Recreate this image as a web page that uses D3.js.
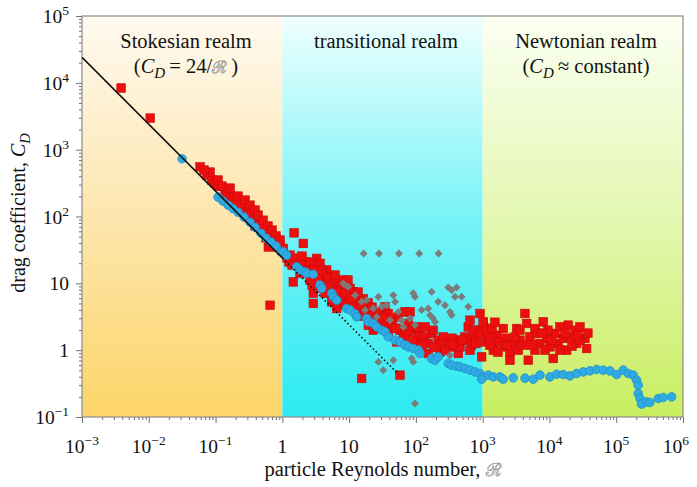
<!DOCTYPE html>
<html><head><meta charset="utf-8">
<script src="https://cdn.jsdelivr.net/npm/d3@7"></script>
<style>
html,body{margin:0;padding:0;background:#fff;}
svg{display:block;font-family:"Liberation Serif","Times New Roman",serif;}
</style></head><body>
<svg id="chart" width="697" height="487"></svg>
<script>
// ---- data: particle Reynolds number vs drag coefficient ----
const xTicks = [1e-3, 1e-2, 1e-1, 1, 10, 1e2, 1e3, 1e4, 1e5, 1e6];
const yTicks = [1e-1, 1, 10, 1e2, 1e3, 1e4, 1e5];
const realmBounds = [1e-3, 1, 1e3, 1e6];
const realmNames = ["Stokesian realm", "transitional realm", "Newtonian realm"];

// Stokes law C_D = 24/Re: solid in its own realm, dotted beyond
const stokesSolid = [[1e-3, 24000], [1, 24]];
const stokesDotted = [[1, 24], [55, 0.436]];

// measured drag coefficients [Re, C_D]
const redSquares = [
  [0.00385, 8360], [0.0105, 2970], [0.0586, 555], [0.0738, 417], [0.0877, 351], [0.0984, 313],
  [0.109, 285], [0.139, 248], [0.147, 222], [0.165, 202], [0.185, 187], [0.207, 157], [0.225, 129],
  [0.247, 140], [0.261, 117], [0.310, 117], [0.348, 105], [0.368, 88], [0.390, 72], [0.437, 83],
  [0.464, 74], [0.492, 66], [0.551, 56], [0.570, 48], [0.655, 50], [0.733, 44], [0.617, 35],
  [0.824, 35], [0.863, 40], [0.98, 31], [0.655, 4.7],
  [0.0827, 462], [0.109, 351], [0.125, 285], [0.165, 266], [0.217, 202], [0.277, 176], [0.328, 148],
  [0.390, 125], [0.433, 105], [0.514, 88], [0.611, 72], [0.701, 62.5], [0.805, 51], [0.924, 44.4],
  [0.0673, 495],
  [1.50, 57], [2.06, 39.5], [0.924, 37.3], [1.035, 33.3], [1.30, 26.4], [1.74, 19.9], [1.46, 10.5],
  [2.91, 5.0], [2.91, 7.1], [3.27, 23.6], [2.32, 15.8], [3.67, 19.9], [4.62, 15.8], [5.18, 11.2],
  [4.11, 12.5], [6.15, 10.0], [7.31, 8.9], [8.19, 11.2], [10.3, 8.4], [11.6, 7.5], [9.2, 6.3],
  [13.0, 5.6], [16.3, 5.9], [14.6, 4.45], [10.9, 4.45], [18.3, 4.45], [21.8, 3.54], [19.4, 2.37],
  [25.9, 2.81], [29.0, 2.51], [34.5, 2.23], [36.5, 3.54], [23.0, 1.99], [15.4, 0.377], [4.36, 7.1],
  [5.80, 7.9], [5.49, 5.3], [8.19, 4.7], [6.52, 4.2], [2.60, 11.2], [1.84, 14.1], [34.5, 4.45],
  [38.6, 3.54], [43.4, 2.98], [34.5, 2.51], [54.5, 3.15], [68.7, 3.74], [81.6, 3.74], [76.9, 2.51],
  [86.5, 1.99], [103, 2.23], [115, 1.99], [109, 1.58], [137, 1.58], [172, 1.78], [153, 1.26],
  [182, 1.99], [216, 1.41], [257, 1.58], [289, 1.26], [324, 1.12], [408, 1.41], [432, 0.893],
  [457, 1.12], [543, 1.58], [608, 2.23], [608, 1.41], [684, 1.19], [767, 1.58], [859, 1.99],
  [912, 3.54], [1021, 2.51], [966, 0.794], [1081, 1.33], [1213, 1.58], [1365, 1.19], [57.8, 1.99],
  [64.8, 1.58], [51.6, 1.33], [38.6, 1.88], [153, 0.893], [230, 0.944], [97, 1.33], [137, 2.23],
  [57.8, 0.423], [1.26, 20.8], [1.60, 23.8], [2.19, 20.8], [2.69, 16.9], [3.42, 12.8], [4.83, 9.4],
  [7.31, 6.4], [13.1, 3.97], [16.7, 3.23], [26.2, 2.13], [45.4, 2.13], [68.7, 1.99], [230, 1.19],
  [347, 1.51], [490, 1.41],
  [1.18, 23.8], [1.40, 18.7], [1.97, 25.5], [2.60, 20.8], [3.09, 15.8], [3.93, 15.8], [2.79, 9.4],
  [3.42, 8.5], [4.83, 12.0], [6.15, 13.3], [6.82, 7.4], [8.69, 7.1], [9.6, 11.2], [11.0, 6.0],
  [13.6, 7.4], [15.6, 4.9], [19.2, 5.1], [22.0, 4.4], [27.1, 3.7], [32.1, 3.0], [43.9, 2.6],
  [50.4, 2.13], [76.2, 1.68], [90.5, 1.41], [123, 1.19], [187, 1.11], [273, 1.0], [359, 1.23],
  [646, 1.0], [794, 1.26],
  [646, 2.81], [1021, 2.65], [723, 1.99], [912, 1.78], [1148, 1.99], [1286, 1.50], [1622, 1.67],
  [1816, 1.33], [2032, 1.12], [1442, 1.0], [2564, 0.944], [2564, 0.708], [2871, 1.19], [3228, 2.11],
  [3614, 1.41], [4296, 3.54], [4560, 2.51], [5105, 1.58], [4819, 0.708], [6067, 1.0], [6430, 1.78],
  [7211, 1.26], [8074, 2.65], [9080, 1.50], [10170, 1.12], [11400, 0.75], [12080, 1.78], [13550, 1.26],
  [14360, 2.23], [16100, 1.50], [18080, 1.0], [19110, 2.37], [21490, 1.58], [24100, 1.99], [25540, 1.26],
  [28640, 2.23], [33980, 1.50], [36060, 1.06], [2032, 2.11], [6067, 2.11], [8570, 1.0], [3412, 1.0],
  [1286, 1.19], [1380, 2.13], [2233, 1.51], [4010, 1.19], [9490, 1.99], [14360, 1.0], [21730, 1.15],
  [28640, 1.41], [1694, 0.933], [3048, 1.57],
  [1528, 2.62], [2312, 1.19], [3614, 1.99], [5470, 1.19], [7727, 1.80], [10890, 1.41], [17060, 1.80],
  [26730, 1.67], [37670, 1.80]
];

const blueCircles = [
  [0.0315, 731], [0.109, 195], [0.129, 170], [0.154, 148], [0.183, 131], [0.217, 116], [0.267, 98],
  [0.328, 82], [0.390, 69], [0.480, 56], [0.570, 47.5], [0.678, 41.4], [0.805, 36], [0.957, 30],
  [1.035, 29.6], [1.16, 26.4], [1.64, 17.7], [1.84, 15.8], [2.19, 14.9], [2.32, 14.1], [2.91, 13.7],
  [3.67, 9.4], [3.89, 8.4], [5.49, 7.1], [5.80, 6.3], [6.52, 5.6], [9.2, 4.2], [10.3, 4.0],
  [12.2, 3.5], [13.0, 3.15], [18.3, 2.98], [19.4, 2.65], [23.0, 2.51], [25.9, 2.23], [30.8, 1.99],
  [34.5, 1.88], [38.6, 1.58], [48.7, 1.41], [57.8, 1.33], [68.7, 1.19], [76.9, 1.12], [91.4, 1.06],
  [109, 1.0], [115, 0.893], [172, 0.75], [193, 0.708], [216, 0.794], [305, 0.632], [343, 0.596],
  [408, 0.575], [457, 0.562], [543, 0.532], [646, 0.502], [767, 0.473], [912, 0.448], [1021, 0.398],
  [1213, 0.423], [1442, 0.398], [966, 0.368], [1816, 0.398], [2032, 0.368], [2871, 0.385],
  [4296, 0.381], [5715, 0.368], [7211, 0.423], [10170, 0.398], [12820, 0.437], [16100, 0.433],
  [20280, 0.412], [25540, 0.448], [32080, 0.473], [40370, 0.490], [50900, 0.514], [63900, 0.502],
  [80500, 0.490], [101400, 0.433], [127400, 0.502], [151400, 0.448], [179600, 0.423], [201900, 0.356],
  [213300, 0.299], [213300, 0.225], [226500, 0.189], [239900, 0.156], [285100, 0.168], [319300, 0.165],
  [425500, 0.189], [505800, 0.196], [675000, 0.2]
];

const greyDiamonds = [
  [16.5, 27.9], [28.0, 27.9], [55.8, 27.9], [112, 27.9], [218, 27.9],
  [8.2, 9.95], [9.7, 8.9], [12.3, 6.65], [15.4, 5.3], [18.3, 5.6], [23.0, 4.2], [27.4, 6.3],
  [30.8, 4.45], [36.5, 4.7], [25.9, 3.15], [17.3, 4.0], [27.4, 0.668], [32.5, 0.502], [45.9, 6.65],
  [48.7, 5.3], [91.4, 7.1], [97, 6.3], [172, 7.5], [305, 8.7], [343, 7.9], [408, 8.7], [485, 6.3],
  [385, 6.3], [216, 5.3], [273, 4.7], [324, 3.74], [343, 3.34], [608, 4.45], [122, 4.0], [153, 4.2],
  [163, 3.34], [182, 2.98], [193, 2.65], [54.5, 3.74], [61.3, 2.81], [64.8, 2.23], [81.6, 2.98],
  [97, 2.37], [45.9, 0.708], [86.5, 0.75], [91.4, 0.668], [172, 0.794], [324, 0.841], [40.9, 2.81],
  [97, 0.159]
];

// ---- layout ----
const plot = { left: 82, top: 16, right: 683, bottom: 417 };
const svg = d3.select("#chart");
const x = d3.scaleLog().domain([1e-3, 1e6]).range([plot.left, plot.right]);
const y = d3.scaleLog().domain([1e-1, 1e5]).range([plot.bottom, plot.top]);

// realm backgrounds: vertical gradients
const realmFills = [
  ["#fffaf0", "#fde6ae", "#fcd568"],
  ["#effffe", "#78f3f7", "#2cebf1"],
  ["#fbfff2", "#e4f7b2", "#c8ee5f"]
];
const defs = svg.append("defs");
realmFills.forEach((c, i) => {
  const g = defs.append("linearGradient").attr("id", "realm" + i)
    .attr("x1", 0).attr("y1", 0).attr("x2", 0).attr("y2", 1);
  g.append("stop").attr("offset", "0%").attr("stop-color", c[0]);
  g.append("stop").attr("offset", "50%").attr("stop-color", c[1]);
  g.append("stop").attr("offset", "100%").attr("stop-color", c[2]);
});
svg.append("g").selectAll("rect").data(realmNames).join("rect")
  .attr("x", (d, i) => x(realmBounds[i]))
  .attr("y", plot.top)
  .attr("width", (d, i) => x(realmBounds[i + 1]) - x(realmBounds[i]))
  .attr("height", plot.bottom - plot.top)
  .attr("fill", (d, i) => `url(#realm${i})`);

// ---- axes ----
const minorOf = (lo, hi) => {
  const out = [];
  for (let e = Math.log10(lo); e < Math.log10(hi); e++)
    for (let m = 2; m <= 9; m++) out.push(m * Math.pow(10, e));
  return out;
};
const tickColor = "#6f6f6f";
function styleAxis(g) {
  g.select(".domain").remove();
  g.selectAll("line").attr("stroke", tickColor);
  g.selectAll("text").remove();
}
svg.append("g").attr("transform", `translate(${plot.left},0)`)
  .call(d3.axisLeft(y).tickValues(yTicks).tickSize(6)).call(styleAxis);
svg.append("g").attr("transform", `translate(${plot.left},0)`)
  .call(d3.axisLeft(y).tickValues(minorOf(1e-1, 1e5)).tickSize(3)).call(styleAxis);
svg.append("g").attr("transform", `translate(0,${plot.bottom})`)
  .call(d3.axisBottom(x).tickValues(xTicks).tickSize(6)).call(styleAxis);
svg.append("g").attr("transform", `translate(0,${plot.bottom})`)
  .call(d3.axisBottom(x).tickValues(minorOf(1e-3, 1e6)).tickSize(3)).call(styleAxis);

// frame
svg.append("rect")
  .attr("x", plot.left).attr("y", plot.top)
  .attr("width", plot.right - plot.left).attr("height", plot.bottom - plot.top)
  .attr("fill", "none").attr("stroke", "#8a8a8a").attr("stroke-width", 1.2);

// power-of-ten labels
function powerLabel(sel, v) {
  const e = Math.round(Math.log10(v));
  if (e === 0) { sel.text("1"); return; }
  if (e === 1) { sel.text("10"); return; }
  sel.append("tspan").text("10");
  sel.append("tspan").attr("dy", -8).attr("font-size", 13.5)
    .text(e < 0 ? "\u2212" + (-e) : String(e));
}
const labelSize = 19.5;
const titleSize = 20.5;
svg.append("g").selectAll("text").data(yTicks).join("text")
  .attr("x", 69)
  .attr("y", d => y(d) + 7)
  .attr("text-anchor", "end")
  .attr("font-size", labelSize)
  .attr("fill", "#111")
  .each(function (d) { powerLabel(d3.select(this), d); });
svg.append("g").selectAll("text").data(xTicks).join("text")
  .attr("x", (d, i) => i === xTicks.length - 1 ? x(d) + 6 : x(d))
  .attr("y", 453)
  .attr("text-anchor", (d, i) => i === xTicks.length - 1 ? "end" : "middle")
  .attr("font-size", labelSize)
  .attr("fill", "#111")
  .each(function (d) { powerLabel(d3.select(this), d); });

// axis titles
const xt = svg.append("text").attr("x", 383).attr("y", 476)
  .attr("text-anchor", "middle").attr("font-size", titleSize).attr("fill", "#111");
xt.append("tspan").text("particle Reynolds number, ");
xt.append("tspan").attr("font-family", "DejaVu Serif").attr("font-size", 18)
  .attr("fill", "#c8c8c8").attr("stroke", "#8d8d8d").attr("stroke-width", 0.5).text("\u211B");

const yt = svg.append("text").attr("transform", "translate(25,213) rotate(-90)")
  .attr("text-anchor", "middle").attr("font-size", 20).attr("fill", "#111");
yt.append("tspan").text("drag coefficient, ");
yt.append("tspan").attr("font-style", "italic").text("C");
yt.append("tspan").attr("font-style", "italic").attr("font-size", 14.5).attr("dy", 5).text("D");

// realm captions
const captionX = [186, 386, 586];
svg.append("g").selectAll("text").data(realmNames).join("text")
  .attr("x", (d, i) => captionX[i]).attr("y", 48)
  .attr("text-anchor", "middle").attr("font-size", titleSize).attr("fill", "#111")
  .text(d => d);

const s1 = svg.append("text").attr("x", captionX[0]).attr("y", 73)
  .attr("text-anchor", "middle").attr("font-size", titleSize).attr("fill", "#111");
s1.append("tspan").text("(");
s1.append("tspan").attr("font-style", "italic").text("C");
s1.append("tspan").attr("font-style", "italic").attr("font-size", 15).attr("dy", 5).text("D");
s1.append("tspan").attr("dy", -5).text("\u2009= 24/");
s1.append("tspan").attr("font-family", "DejaVu Serif").attr("font-size", 17)
  .attr("fill", "#c8c8c8").attr("stroke", "#8d8d8d").attr("stroke-width", 0.5).text("\u211B");
s1.append("tspan").text("\u2009)");

const s3 = svg.append("text").attr("x", captionX[2]).attr("y", 73)
  .attr("text-anchor", "middle").attr("font-size", titleSize).attr("fill", "#111");
s3.append("tspan").text("(");
s3.append("tspan").attr("font-style", "italic").text("C");
s3.append("tspan").attr("font-style", "italic").attr("font-size", 15).attr("dy", 5).text("D");
s3.append("tspan").attr("dy", -5).text("\u2009\u2248 constant)");

// ---- data marks ----
defs.append("clipPath").attr("id", "plotClip").append("rect")
  .attr("x", plot.left).attr("y", plot.top)
  .attr("width", plot.right - plot.left).attr("height", plot.bottom - plot.top);
const marks = svg.append("g").attr("clip-path", "url(#plotClip)");

const sq = 8.6;
marks.append("g").selectAll("rect").data(redSquares).join("rect")
  .attr("x", d => x(d[0]) - sq / 2).attr("y", d => y(d[1]) - sq / 2)
  .attr("width", sq).attr("height", sq)
  .attr("fill", "#ec0f0f").attr("stroke", "#c80a0a").attr("stroke-width", 0.6);

const diamond = d3.symbol().type(d3.symbolDiamond2).size(40);
marks.append("g").selectAll("path").data(greyDiamonds).join("path")
  .attr("transform", d => `translate(${x(d[0])},${y(d[1])})`)
  .attr("d", diamond)
  .attr("fill", "#7b7b7b");

marks.append("g").selectAll("circle").data(blueCircles).join("circle")
  .attr("cx", d => x(d[0])).attr("cy", d => y(d[1])).attr("r", 4.3)
  .attr("fill", "#2fabe3").attr("stroke", "#1f8fc8").attr("stroke-width", 0.8);

const line = d3.line().x(d => x(d[0])).y(d => y(d[1]));
marks.append("path").attr("d", line(stokesSolid))
  .attr("fill", "none").attr("stroke", "#111").attr("stroke-width", 1.6);
marks.append("path").attr("d", line(stokesDotted))
  .attr("fill", "none").attr("stroke", "#111").attr("stroke-width", 1.6)
  .attr("stroke-dasharray", "1.6,2.4");
</script>
</body></html>
